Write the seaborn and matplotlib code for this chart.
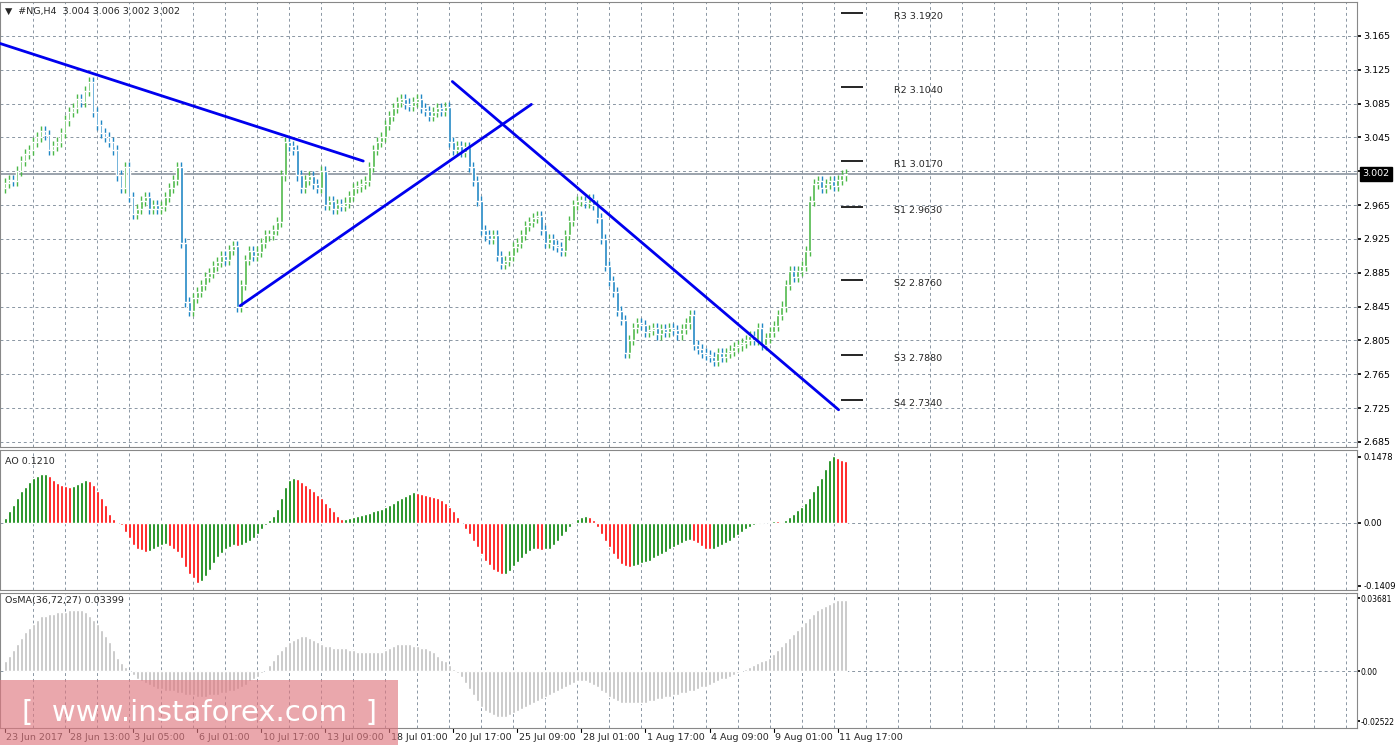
import numpy as np
import matplotlib
matplotlib.use("Agg")
import matplotlib.pyplot as plt
import seaborn as sns
from matplotlib.patches import Rectangle

closes = [2.991,2.995,2.993,3.005,3.017,3.025,3.030,3.040,3.045,3.052,
3.048,3.030,3.035,3.040,3.050,3.065,3.075,3.080,3.090,3.087,
3.100,3.110,3.075,3.060,3.050,3.045,3.040,3.030,3.000,2.985,
3.010,2.975,2.955,2.960,2.970,2.975,2.960,2.965,2.960,2.964,
2.975,2.985,2.995,3.010,2.920,2.850,2.840,2.855,2.862,2.870,
2.880,2.885,2.893,2.898,2.905,2.900,2.912,2.917,2.845,2.870,
2.900,2.911,2.905,2.910,2.920,2.929,2.930,2.935,2.945,3.000,
3.040,3.035,3.030,3.000,2.985,2.995,2.999,2.990,2.985,3.005,
2.965,2.970,2.960,2.966,2.964,2.968,2.976,2.985,2.987,2.990,
2.993,3.010,3.030,3.040,3.045,3.060,3.070,3.080,3.087,3.090,
3.085,3.082,3.087,3.090,3.080,3.076,3.070,3.075,3.080,3.076,
3.081,3.040,3.030,3.035,3.028,3.034,3.010,2.993,2.970,2.935,
2.929,2.925,2.930,2.905,2.895,2.899,2.905,2.915,2.920,2.930,
2.940,2.945,2.950,2.952,2.935,2.920,2.925,2.918,2.915,2.911,
2.930,2.946,2.965,2.970,2.970,2.968,2.972,2.965,2.950,2.925,
2.893,2.875,2.862,2.840,2.829,2.790,2.805,2.820,2.826,2.823,
2.815,2.817,2.820,2.812,2.818,2.815,2.820,2.817,2.812,2.818,
2.825,2.835,2.800,2.795,2.790,2.788,2.785,2.781,2.790,2.785,
2.790,2.793,2.797,2.799,2.802,2.805,2.810,2.805,2.820,2.800,
2.808,2.815,2.822,2.835,2.845,2.870,2.887,2.880,2.887,2.893,
2.911,2.970,2.990,2.993,2.985,2.990,2.993,2.988,2.995,3.000,3.002]
first_open = 2.985

ao = [0.010,0.025,0.040,0.055,0.070,0.080,0.090,0.100,0.105,0.108,
0.110,0.105,0.095,0.088,0.085,0.082,0.080,0.082,0.086,0.090,
0.095,0.093,0.085,0.070,0.055,0.040,0.020,0.008,0.000,-0.005,
-0.020,-0.035,-0.050,-0.060,-0.062,-0.065,-0.063,-0.060,-0.055,-0.050,
-0.048,-0.052,-0.058,-0.065,-0.080,-0.100,-0.115,-0.125,-0.135,-0.130,
-0.120,-0.105,-0.090,-0.078,-0.068,-0.060,-0.055,-0.050,-0.052,-0.050,
-0.045,-0.040,-0.035,-0.025,-0.015,-0.005,0.005,0.015,0.030,0.055,
0.080,0.095,0.100,0.098,0.092,0.085,0.078,0.070,0.062,0.055,
0.045,0.035,0.025,0.015,0.008,0.008,0.010,0.012,0.015,0.018,
0.020,0.022,0.025,0.028,0.030,0.035,0.040,0.045,0.050,0.055,
0.060,0.065,0.068,0.067,0.065,0.062,0.060,0.058,0.055,0.050,
0.045,0.035,0.025,0.012,0.000,-0.015,-0.025,-0.040,-0.055,-0.070,
-0.085,-0.095,-0.105,-0.110,-0.115,-0.115,-0.108,-0.098,-0.088,-0.080,
-0.070,-0.063,-0.058,-0.060,-0.062,-0.060,-0.058,-0.050,-0.040,-0.030,
-0.020,-0.010,0.000,0.008,0.012,0.015,0.012,0.005,-0.010,-0.025,
-0.040,-0.055,-0.070,-0.082,-0.092,-0.098,-0.100,-0.098,-0.095,-0.090,
-0.088,-0.085,-0.080,-0.075,-0.070,-0.065,-0.060,-0.055,-0.050,-0.045,
-0.040,-0.038,-0.040,-0.045,-0.052,-0.058,-0.060,-0.058,-0.055,-0.050,
-0.045,-0.040,-0.035,-0.028,-0.020,-0.015,-0.010,-0.006,-0.004,-0.004,
0.000,0.002,0.004,0.003,0.002,0.006,0.012,0.020,0.028,0.035,
0.045,0.055,0.070,0.085,0.100,0.120,0.140,0.150,0.145,0.140,0.138]

osma = [0.005,0.008,0.011,0.014,0.017,0.020,0.022,0.024,0.026,0.028,
0.028,0.029,0.029,0.030,0.030,0.030,0.031,0.031,0.031,0.031,
0.030,0.028,0.026,0.024,0.021,0.018,0.015,0.011,0.007,0.004,
0.002,0.000,-0.002,-0.004,-0.005,-0.006,-0.007,-0.008,-0.009,-0.009,
-0.010,-0.010,-0.010,-0.011,-0.011,-0.012,-0.012,-0.012,-0.013,-0.013,
-0.013,-0.012,-0.012,-0.012,-0.011,-0.011,-0.010,-0.010,-0.009,-0.008,
-0.007,-0.005,-0.004,-0.003,-0.001,0.000,0.003,0.006,0.009,0.011,
0.013,0.015,0.016,0.017,0.018,0.018,0.017,0.016,0.015,0.014,
0.013,0.013,0.012,0.012,0.012,0.012,0.011,0.011,0.010,0.010,
0.010,0.010,0.010,0.010,0.010,0.011,0.012,0.013,0.014,0.014,
0.014,0.014,0.013,0.013,0.012,0.012,0.011,0.010,0.008,0.006,
0.005,0.003,0.001,-0.001,-0.003,-0.006,-0.009,-0.012,-0.015,-0.018,
-0.020,-0.021,-0.022,-0.023,-0.023,-0.023,-0.022,-0.021,-0.020,-0.019,
-0.018,-0.017,-0.016,-0.015,-0.014,-0.013,-0.012,-0.011,-0.010,-0.009,
-0.008,-0.007,-0.006,-0.005,-0.005,-0.005,-0.006,-0.007,-0.008,-0.010,
-0.011,-0.013,-0.014,-0.015,-0.016,-0.016,-0.016,-0.016,-0.016,-0.016,
-0.016,-0.015,-0.015,-0.014,-0.014,-0.013,-0.013,-0.012,-0.012,-0.011,
-0.011,-0.010,-0.010,-0.009,-0.008,-0.008,-0.007,-0.006,-0.005,-0.004,
-0.004,-0.003,-0.002,-0.001,0.000,0.001,0.002,0.003,0.004,0.005,
0.006,0.007,0.009,0.011,0.013,0.015,0.017,0.019,0.021,0.023,
0.025,0.027,0.029,0.031,0.032,0.033,0.034,0.035,0.036,0.036,0.036]

date_labels = ["23 Jun 2017","28 Jun 13:00","3 Jul 05:00","6 Jul 01:00","10 Jul 17:00",
"13 Jul 09:00","18 Jul 01:00","20 Jul 17:00","25 Jul 09:00","28 Jul 01:00",
"1 Aug 17:00","4 Aug 09:00","9 Aug 01:00","11 Aug 17:00"]
price_ticks = [3.165,3.125,3.085,3.045,3.005,2.965,2.925,2.885,2.845,2.805,2.765,2.725,2.685]
pivot_names = ["R3","R2","R1","S1","S2","S3","S4"]
pivot_values = [3.192,3.104,3.017,2.963,2.876,2.788,2.734]
trendlines = [((-1.25,3.156),(89.5,3.017)),((58.75,2.846),(131.5,3.084)),((111.75,3.111),(208.25,2.723))]

sns.set_theme(style="white")
plt.rcParams['font.family'] = ['DejaVu Sans']
fs = 6.8
GREEN = "#4cb848"; BLUE = "#1e86c4"; RED = "#ff0000"; AOGREEN = "#008000"
GRID = "#8a96a3"

fig = plt.figure(figsize=(13.95, 7.49), dpi=100)
W, H = 1395, 749
def axbox(t, b):
    return [0.0, 1 - b / H, 1357 / W, (b - t) / H]
ax1 = fig.add_axes(axbox(2, 447))
ax2 = fig.add_axes(axbox(450, 590))
ax3 = fig.add_axes(axbox(593, 728))

n = len(closes)
idx = np.arange(n)
c = np.array(closes)
o = np.concatenate([[first_open], c[:-1]])
XL = (-1.25, 337.75)

for ax, f, pd, ln in ((ax1, fs, 1.5, 3), (ax2, 6.1, 1.5, 3), (ax3, 5.5, 0.8, 2)):
    ax.set_xlim(*XL)
    ax.set_facecolor("white")
    for s in ax.spines.values():
        s.set_color("#888888"); s.set_linewidth(0.8)
    ax.yaxis.tick_right()
    ax.tick_params(axis='y', labelsize=f, length=ln, pad=pd, colors="black", direction="out")
    ax.set_xticks([])
    for xv in np.arange(7.0, 340, 8):
        ax.axvline(xv, color=GRID, ls=(0, (3, 3)), lw=0.7, zorder=0)

# main panel
ax1.set_ylim(2.679, 3.205)
ax1.set_yticks(price_ticks)
ax1.set_yticklabels([f"{v:.3f}" for v in price_ticks])
for v in price_ticks:
    ax1.axhline(v, color=GRID, ls=(0, (3, 3)), lw=0.7, zorder=0)
up = c >= o
cols = np.where(up, GREEN, BLUE)
hi = np.maximum(o, c) + 0.006
lo = np.minimum(o, c) - 0.006
ax1.vlines(idx, lo, hi, colors=cols, lw=1, zorder=2)
body = np.maximum(np.abs(c - o), 0.0015)
ax1.bar(idx, body, bottom=np.minimum(o, c), width=0.7, color=cols, zorder=3)
for (x0, y0), (x1, y1) in trendlines:
    sns.lineplot(x=[x0, x1], y=[y0, y1], ax=ax1, color="#0000ee", lw=2, zorder=4)
for name, v in zip(pivot_names, pivot_values):
    ax1.hlines(v, 208.75, 214.25, color="black", lw=1.2, zorder=4)
    ax1.text(222, v - 0.004, f"{name} {v:.4f}", fontsize=fs, va="center", ha="left")
ax1.axhline(closes[-1], color="#8a949e", lw=1.2, zorder=1)
ax1.text(1.004, closes[-1], f"{closes[-1]:.3f}", transform=ax1.get_yaxis_transform(),
         fontsize=fs, color="white", va="center", ha="left",
         bbox=dict(boxstyle="square,pad=0.25", fc="black", ec="black"), zorder=6, clip_on=False)
ax1.text(0.004, 0.988, "▼  #NG,H4  3.004 3.006 3.002 3.002", transform=ax1.transAxes,
         fontsize=fs, va="top", ha="left")

# AO panel
aov = np.array(ao)
diff = np.diff(aov, prepend=aov[0] - 1)
ax2.bar(idx, aov, width=0.75, color=np.where(diff >= 0, AOGREEN, RED), zorder=3)
ax2.set_ylim(-0.1509, 0.1628)
ax2.set_yticks([0.1478, 0.0, -0.1409])
ax2.set_yticklabels(["0.1478", "0.00", "-0.1409"])
ax2.axhline(0.0, color=GRID, ls=(0, (3, 3)), lw=0.7, zorder=0)
ax2.text(0.004, 0.95, "AO 0.1210", transform=ax2.transAxes, fontsize=fs, va="top")

# OsMA
ax3.bar(idx, osma, width=0.75, color="#c0c0c0", zorder=3)
ax3.set_ylim(-0.0285, 0.0395)
ax3.set_yticks([0.03681, 0.0, -0.02522])
ax3.set_yticklabels(["0.03681", "0.00", "-0.02522"])
ax3.axhline(0.0, color=GRID, ls=(0, (3, 3)), lw=0.7, zorder=0)
ax3.text(0.004, 0.98, "OsMA(36,72,27) 0.03399", transform=ax3.transAxes, fontsize=fs, va="top")

# date labels
for k, lab in enumerate(date_labels):
    xb = 16 * k
    xf = (xb - XL[0]) / (XL[1] - XL[0]) * (1357 / W)
    fig.text(xf + 0.001, 1 - 738 / H, lab, fontsize=fs, ha="left", va="center")
    ax3.plot([xb, xb], [-0.0285, -0.0305], color="black", lw=0.8, clip_on=False)

# watermark
fig.patches.append(Rectangle((0, 1 - 745 / H), 398 / W, 65 / H, transform=fig.transFigure,
                             fc="#e07880", ec="none", alpha=0.65, zorder=10))
fig.text(200 / W, 1 - 713 / H, "[  www.instaforex.com  ]", fontsize=21, color="white",
         ha="center", va="center", zorder=11)

fig.savefig("out.png", dpi=100, facecolor="white")
